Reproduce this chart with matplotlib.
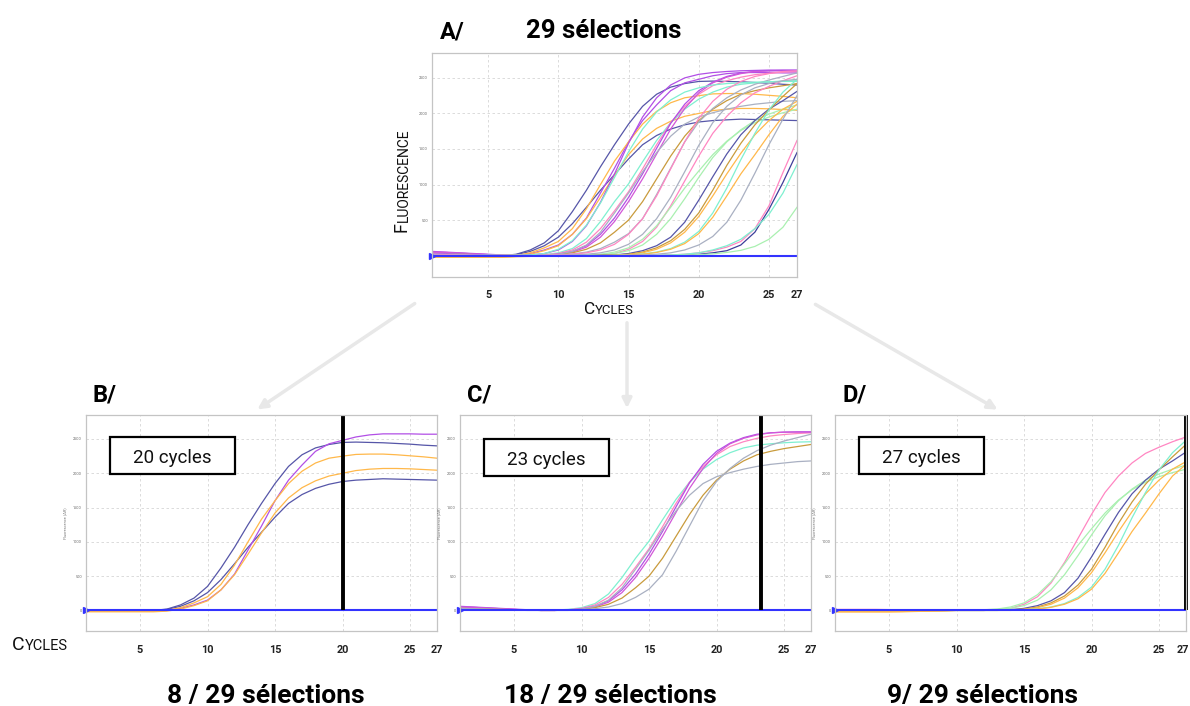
import matplotlib
matplotlib.use('Agg')
import matplotlib.pyplot as plt
from matplotlib.patches import FancyArrowPatch, Rectangle
from matplotlib.transforms import offset_copy

# Figure size in pixels, everything below is placed in pixel units of the reference
W, H = 1190, 706

cycles = list(range(1, 28))

# ---- panel B curves (early risers, selected at 20 cycles)
b_blue_high = [10, 8, 6, 4, 2, 0, 20, 80, 180, 350, 620, 920, 1250, 1560, 1850, 2100, 2270, 2370, 2420, 2450, 2455, 2450, 2445, 2435, 2425, 2410, 2400]
b_blue_low = [10, 8, 6, 4, 2, 0, 15, 60, 140, 260, 450, 680, 920, 1140, 1360, 1560, 1690, 1780, 1840, 1880, 1900, 1910, 1920, 1915, 1910, 1905, 1900]
b_purple = [-10, -10, -10, -10, -10, -10, 0, 30, 80, 150, 300, 530, 880, 1230, 1600, 1900, 2120, 2320, 2430, 2480, 2530, 2560, 2575, 2575, 2575, 2570, 2570]
b_orange_high = [-10, -10, -10, -10, -10, -10, 0, 40, 110, 200, 380, 660, 1000, 1330, 1600, 1850, 2030, 2150, 2220, 2250, 2275, 2280, 2280, 2270, 2255, 2240, 2220]
b_orange_low = [-20, -20, -20, -20, -20, -20, -10, 20, 70, 140, 300, 520, 820, 1130, 1420, 1640, 1790, 1890, 1960, 2000, 2040, 2060, 2070, 2070, 2065, 2055, 2045]

# ---- panel C curves (selected at 23 cycles)
c_teal = [40, 35, 30, 20, 10, 5, 0, 5, 15, 40, 100, 240, 480, 760, 1010, 1320, 1620, 1870, 2060, 2200, 2300, 2370, 2410, 2430, 2445, 2455, 2460]
c_pink = [50, 45, 35, 25, 15, 5, 0, 0, 10, 30, 80, 190, 380, 630, 900, 1220, 1560, 1870, 2100, 2270, 2390, 2460, 2510, 2545, 2565, 2580, 2590]
c_purple = [60, 50, 40, 30, 20, 10, 0, 0, 5, 20, 60, 140, 300, 530, 820, 1150, 1510, 1860, 2130, 2320, 2440, 2520, 2570, 2590, 2600, 2605, 2605]
c_magenta = [50, 45, 35, 25, 15, 5, 0, 0, 5, 20, 50, 120, 260, 480, 760, 1080, 1430, 1780, 2070, 2290, 2430, 2510, 2560, 2590, 2600, 2600, 2600]
c_brown = [30, 25, 20, 15, 10, 5, 0, 0, 5, 15, 40, 90, 180, 330, 500, 760, 1080, 1400, 1680, 1900, 2060, 2180, 2270, 2320, 2360, 2390, 2420]
c_grey_late = [20, 15, 10, 5, 5, 0, 0, 0, 0, 10, 25, 50, 100, 190, 310, 520, 860, 1230, 1600, 1880, 2070, 2220, 2330, 2410, 2470, 2520, 2570]
c_grey_flat = [30, 25, 20, 15, 10, 5, 0, 0, 5, 20, 60, 150, 330, 600, 880, 1180, 1450, 1680, 1850, 1950, 2010, 2060, 2100, 2130, 2150, 2170, 2180]

# ---- panel D curves (selected at 27 cycles)
d_pink = [15, 15, 15, 15, 12, 10, 8, 5, 5, 5, 5, 5, 10, 30, 90, 200, 400, 700, 1050, 1400, 1720, 1960, 2150, 2290, 2380, 2460, 2530]
d_green = [10, 10, 10, 10, 8, 6, 5, 5, 5, 5, 5, 10, 20, 50, 110, 230, 420, 680, 950, 1190, 1420, 1610, 1760, 1870, 1950, 2010, 2060]
d_green2 = [5, 5, 5, 5, 5, 5, 5, 5, 5, 5, 5, 10, 15, 30, 70, 150, 300, 520, 800, 1100, 1380, 1600, 1770, 1900, 1990, 2060, 2120]
d_blue = [0, 0, 0, 0, 0, 0, 0, 0, 0, 0, 0, 0, 5, 10, 30, 70, 140, 260, 470, 780, 1110, 1430, 1700, 1900, 2060, 2180, 2310]
d_brown = [-10, -10, -10, -10, -10, -10, -10, -5, -5, 0, 0, 0, 5, 10, 20, 50, 110, 210, 370, 600, 920, 1270, 1580, 1840, 2050, 2240, 2420]
d_orange = [-20, -20, -20, -20, -20, -15, -10, -10, -5, 0, 0, 0, 0, 5, 15, 40, 90, 180, 330, 550, 840, 1150, 1440, 1700, 1900, 2060, 2170]
d_teal = [0, 0, 0, 0, 0, 0, 0, 0, 0, 0, 0, 0, 0, 5, 10, 25, 50, 100, 190, 340, 600, 950, 1350, 1720, 2050, 2300, 2480]
d_orange_low = [-20, -20, -20, -20, -20, -20, -15, -10, -5, 0, 0, 0, 0, 0, 10, 20, 45, 90, 170, 310, 540, 840, 1150, 1420, 1700, 1960, 2130]

# ---- other curves only seen in panel A
a_purple = [30, 25, 20, 15, 10, 5, 0, 10, 30, 80, 200, 420, 750, 1150, 1580, 1950, 2220, 2400, 2500, 2550, 2575, 2590, 2600, 2605, 2610, 2610, 2610]
a_teal = [20, 15, 10, 5, 5, 0, 0, 10, 30, 90, 210, 430, 740, 1100, 1460, 1780, 2020, 2190, 2300, 2360, 2400, 2420, 2430, 2440, 2445, 2450, 2450]
a_pink = [20, 15, 10, 5, 0, 0, 0, 0, 5, 10, 20, 40, 80, 160, 300, 520, 840, 1220, 1600, 1930, 2170, 2340, 2450, 2520, 2560, 2590, 2600]
a_grey = [10, 5, 5, 0, 0, 0, 0, 0, 0, 5, 10, 20, 40, 80, 160, 300, 520, 820, 1180, 1550, 1870, 2100, 2260, 2360, 2420, 2460, 2480]
a_grey_late = [0, 0, 0, 0, 0, 0, 0, 0, 0, 0, 0, 0, 0, 0, 5, 10, 20, 40, 80, 150, 270, 470, 780, 1160, 1560, 1920, 2250]
a_blue_late = [0, 0, 0, 0, 0, 0, 0, 0, 0, 0, 0, 0, 0, 0, 0, 0, 0, 5, 10, 20, 40, 70, 150, 330, 650, 1030, 1450]
a_pink_late = [0, 0, 0, 0, 0, 0, 0, 0, 0, 0, 0, 0, 0, 0, 0, 0, 5, 10, 20, 40, 70, 120, 200, 380, 700, 1170, 1620]
a_teal_late = [0, 0, 0, 0, 0, 0, 0, 0, 0, 0, 0, 0, 0, 0, 0, 0, 5, 10, 20, 40, 80, 140, 230, 380, 580, 880, 1280]
a_green_late = [0, 0, 0, 0, 0, 0, 0, 0, 0, 0, 0, 0, 0, 0, 0, 0, 0, 5, 10, 15, 25, 45, 75, 130, 230, 400, 680]

# colours
BLUE = '#5656a8'
PURPLE = '#b24fe6'
MAGENTA = '#d257d8'
ORANGE = '#ffb84a'
TEAL = '#7ef0d0'
PINK = '#ff86c2'
GREY = '#a9b0c2'
BROWN = '#c99b3c'
GREEN = '#a9f0b0'

panel_b = [(b_blue_high, BLUE), (b_blue_low, BLUE), (b_purple, PURPLE),
           (b_orange_high, ORANGE), (b_orange_low, ORANGE)]
panel_c = [(c_teal, TEAL), (c_pink, PINK), (c_purple, PURPLE), (c_magenta, MAGENTA),
           (c_brown, BROWN), (c_grey_late, GREY), (c_grey_flat, GREY)]
panel_d = [(d_pink, PINK), (d_green, GREEN), (d_green2, GREEN), (d_blue, BLUE),
           (d_brown, BROWN), (d_orange, ORANGE), (d_teal, TEAL), (d_orange_low, ORANGE)]
panel_a_extra = [(a_purple, PURPLE), (a_teal, TEAL), (a_pink, PINK), (a_grey, GREY),
                 (a_grey_late, GREY), (a_blue_late, '#3d3d9a'), (a_pink_late, PINK),
                 (a_teal_late, TEAL), (a_green_late, GREEN)]

cutoffs = [20, 23.3, 27]
cutoff_labels = ['20 cycles', '23 cycles', '27 cycles']
panel_letters = ['B/', 'C/', 'D/']
bottom_labels = ['8 / 29 sélections', '18 / 29 sélections', '9/ 29 sélections']

x_ticks = [5, 10, 15, 20, 25, 27]
y_ticks = [0, 500, 1000, 1500, 2000, 2500]

FONT = 'Roboto'
plt.rcParams['font.family'] = [FONT, 'DejaVu Sans']

fig = plt.figure(figsize=(W / 100, H / 100), dpi=100)
renderer = fig.canvas.get_renderer()


def box(left, top, right, bottom):
    return [left / W, 1 - bottom / H, (right - left) / W, (bottom - top) / H]


def fx(x):
    return x / W


def fy(y):
    return 1 - y / H


def style_axes(ax, tick_pad, ylabels):
    ax.set_xlim(1, 27)
    ax.set_ylim(-300, 2850)
    ax.set_xticks(x_ticks)
    ax.set_xticklabels([str(t) for t in x_ticks], fontsize=7.8, fontweight='bold', color='#222222')
    ax.set_yticks(y_ticks)
    ax.set_yticklabels(ylabels, fontsize=2.8, color='#666666')
    ax.tick_params(length=0, axis='x', pad=tick_pad)
    ax.tick_params(length=0, axis='y', pad=3)
    for s in ax.spines.values():
        s.set_color('#c4c4c4')
        s.set_linewidth(0.9)
    ax.grid(True, color='#d6d6d6', linestyle=(0, (3, 3)), linewidth=0.6)
    ax.set_axisbelow(True)


def draw_curves(ax, curves):
    for vals, col in curves:
        ax.plot(cycles, vals, color=col, linewidth=0.9)
    # threshold line with its marker
    ax.axhline(0, color='#3333ff', linewidth=1.5)
    ax.plot([1], [0], marker='>', color='#3333ff', markersize=5, clip_on=False)


def small_caps(x, y, big, small, s1, s2, vertical=False):
    if not vertical:
        t = fig.text(fx(x), fy(y), big, fontsize=s1, ha='left', va='baseline', color='#111111')
        bb = t.get_window_extent(renderer)
        fig.text(bb.x1 / fig.bbox.width, fy(y), small, fontsize=s2, ha='left', va='baseline',
                 color='#111111')
    else:
        t = fig.text(fx(x), fy(y), big, fontsize=s1, ha='right', va='bottom', rotation=90,
                     color='#111111')
        bb = t.get_window_extent(renderer)
        fig.text(fx(x), bb.y1 / fig.bbox.height, small, fontsize=s2, ha='right', va='bottom',
                 rotation=90, color='#111111')


# ---- panel A : all curves
ax_a = fig.add_axes(box(432, 53, 797, 277))
all_curves = panel_b + panel_c + panel_d + panel_a_extra
draw_curves(ax_a, all_curves)
style_axes(ax_a, 9, [''] + [str(v) for v in y_ticks[1:]])

fig.text(fx(440), fy(38), 'A/', fontsize=17, fontweight='bold', ha='left', va='baseline')
fig.text(fx(604), fy(38), '29 sélections', fontsize=18.5, fontweight='bold', ha='center', va='baseline')
small_caps(411, 232, 'F', 'LUORESCENCE', 13, 10, vertical=True)
small_caps(584, 314, 'C', 'YCLES', 12.5, 9.5)

# ---- panels B, C, D
lefts = [86, 460, 835]
box_tops = [437, 439, 437]
for i, left in enumerate(lefts):
    ax = fig.add_axes(box(left, 415, left + 351, 631))
    curves = [panel_b, panel_c, panel_d][i]
    draw_curves(ax, curves)
    style_axes(ax, 10, [str(v) for v in y_ticks])
    ax.set_ylabel('Fluorescence (ΔR)', fontsize=2.8, color='#777777', labelpad=4)
    ax.plot([cutoffs[i], cutoffs[i]], [0, 2850], color='black', linewidth=2.8,
            clip_on=False, solid_capstyle='butt')
    if i == 2:
        # last tick label sits on the figure edge, nudge it inwards a little
        lab = ax.get_xticklabels()[-1]
        lab.set_transform(offset_copy(lab.get_transform(), fig=fig, x=-3, units='dots'))

    # cutoff box
    bl, bt = left + 24, box_tops[i]
    fig.add_artist(Rectangle((fx(bl), fy(bt + 37)), 125 / W, 37 / H, transform=fig.transFigure,
                             facecolor='white', edgecolor='black', linewidth=1.6, zorder=5))
    fig.text(fx(bl + 62.5), fy(bt + 26), cutoff_labels[i], fontsize=13.5, ha='center',
             va='baseline', color='#111111', zorder=6)

    fig.text(fx(left + 7), fy(402), panel_letters[i], fontsize=17, fontweight='bold',
             ha='left', va='baseline')

for cx, lab in zip([266, 610, 983], bottom_labels):
    fig.text(fx(cx), fy(703), lab, fontsize=19, fontweight='bold', ha='center', va='baseline')

small_caps(12, 650, 'C', 'YCLES', 14, 10.5)

# ---- arrows from panel A down to the three selections
arrow_kw = dict(arrowstyle='-|>', color='#e8e8e8', linewidth=2.5, mutation_scale=14)
for start, end in [((417, 302), (255, 411)), ((627, 320), (627, 411)), ((813, 303), (1000, 411))]:
    fig.add_artist(FancyArrowPatch(
        (fx(start[0]), fy(start[1])), (fx(end[0]), fy(end[1])),
        transform=fig.transFigure, **arrow_kw))

fig.savefig('out.png', dpi=100, facecolor='white')
